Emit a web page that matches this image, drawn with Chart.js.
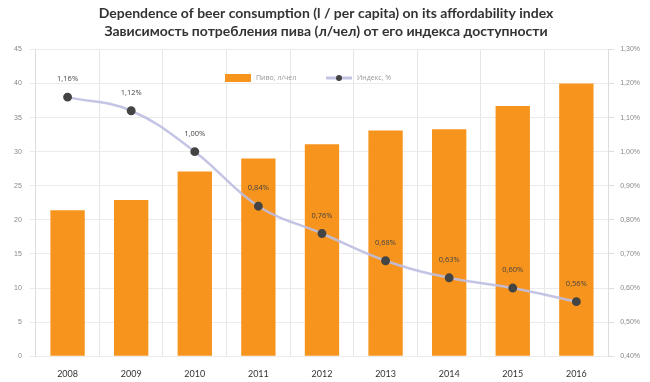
<!DOCTYPE html>
<html>
<head>
<meta charset="utf-8">
<script src="https://cdn.jsdelivr.net/npm/chart.js@4/dist/chart.umd.min.js"></script>
<style>
html,body{margin:0;padding:0;background:#fff;}
#wrap{width:650px;height:382px;}
</style>
</head>
<body>
<div id="wrap"><canvas id="c" width="650" height="382"></canvas></div>
<script>
const years = ['2008','2009','2010','2011','2012','2013','2014','2015','2016'];
const consumption = [21.4, 22.9, 27.1, 29.0, 31.1, 33.1, 33.3, 36.7, 40.0];
const affordability = [1.16, 1.12, 1.00, 0.84, 0.76, 0.68, 0.63, 0.60, 0.56];
const titleLines = ['Dependence of beer consumption (l / per capita) on its affordability index', 'Зависимость потребления пива (л/чел) от его индекса доступности'];
const legendLabels = ['Пиво, л/чел', 'Индекс, %'];

const fmtPct = v => v.toFixed(2).replace('.', ',') + '%';

const labelPlugin = {
  id: 'lineLabels',
  afterDatasetsDraw(chart) {
    const ctx = chart.ctx;
    const meta = chart.getDatasetMeta(1);
    ctx.save();
    ctx.font = '7.5px "Open Sans", sans-serif';
    ctx.fillStyle = '#444';
    ctx.textAlign = 'center';
    ctx.textBaseline = 'middle';
    meta.data.forEach((pt, i) => {
      ctx.fillText(fmtPct(affordability[i]), pt.x, pt.y - 18);
    });
    ctx.restore();
  }
};

const legendPlugin = {
  id: 'customLegend',
  afterDraw(chart) {
    const ctx = chart.ctx;
    ctx.save();
    const y = 78;
    ctx.fillStyle = '#F7941D';
    ctx.fillRect(225, y - 4, 26, 8);
    ctx.font = '7px "Open Sans", sans-serif';
    ctx.fillStyle = '#999';
    ctx.textAlign = 'left';
    ctx.textBaseline = 'middle';
    ctx.fillText(legendLabels[0], 256, y);
    ctx.strokeStyle = 'rgba(190,190,225,0.9)';
    ctx.lineWidth = 3;
    ctx.beginPath();
    ctx.moveTo(326, y);
    ctx.lineTo(352, y);
    ctx.stroke();
    ctx.fillStyle = '#444';
    ctx.beginPath();
    ctx.arc(339, y, 3, 0, Math.PI * 2);
    ctx.fill();
    ctx.fillStyle = '#999';
    ctx.fillText(legendLabels[1], 357, y);
    ctx.restore();
  }
};

new Chart(document.getElementById('c'), {
  data: {
    labels: years,
    datasets: [
      {
        type: 'bar',
        label: legendLabels[0],
        data: consumption,
        backgroundColor: '#F7941D',
        yAxisID: 'y',
        categoryPercentage: 1.0,
        barPercentage: 0.54,
        order: 2
      },
      {
        type: 'line',
        label: legendLabels[1],
        data: affordability,
        yAxisID: 'y1',
        borderColor: 'rgba(190,190,225,0.9)',
        borderWidth: 2.5,
        tension: 0.4,
        pointRadius: 3.2,
        pointBackgroundColor: '#444',
        pointBorderColor: '#444',
        order: 1
      }
    ]
  },
  options: {
    responsive: false,
    animation: false,
    layout: { padding: { left: 6, right: 4, top: 0, bottom: -9 } },
    plugins: {
      legend: { display: false },
      tooltip: { enabled: false },
      title: {
        display: true,
        text: titleLines,
        color: '#333',
        font: { family: 'Lato, "Open Sans", sans-serif', size: 14, weight: 'bold', lineHeight: 1.3 },
        padding: { top: 4, bottom: 9 }
      }
    },
    scales: {
      x: {
        grid: { color: '#e6e6e6', offset: true, drawTicks: false },
        border: { display: false },
        ticks: { color: '#333', font: { family: 'Lato, "Open Sans", sans-serif', size: 9 }, padding: 12 }
      },
      y: {
        position: 'left',
        min: 0, max: 45,
        ticks: { stepSize: 5, color: '#888', font: { size: 7 }, padding: 8 },
        grid: { color: '#ebebeb', tickLength: 6 },
        border: { color: '#ddd', width: 1 }
      },
      y1: {
        position: 'right',
        min: 0.4, max: 1.3,
        ticks: { stepSize: 0.1, color: '#888', font: { size: 7 }, padding: 6,
                 callback: v => fmtPct(v) },
        grid: { drawOnChartArea: false, color: '#ddd', tickLength: 6 },
        border: { color: '#ddd', width: 1 }
      }
    }
  },
  plugins: [labelPlugin, legendPlugin]
});
</script>
</body>
</html>
